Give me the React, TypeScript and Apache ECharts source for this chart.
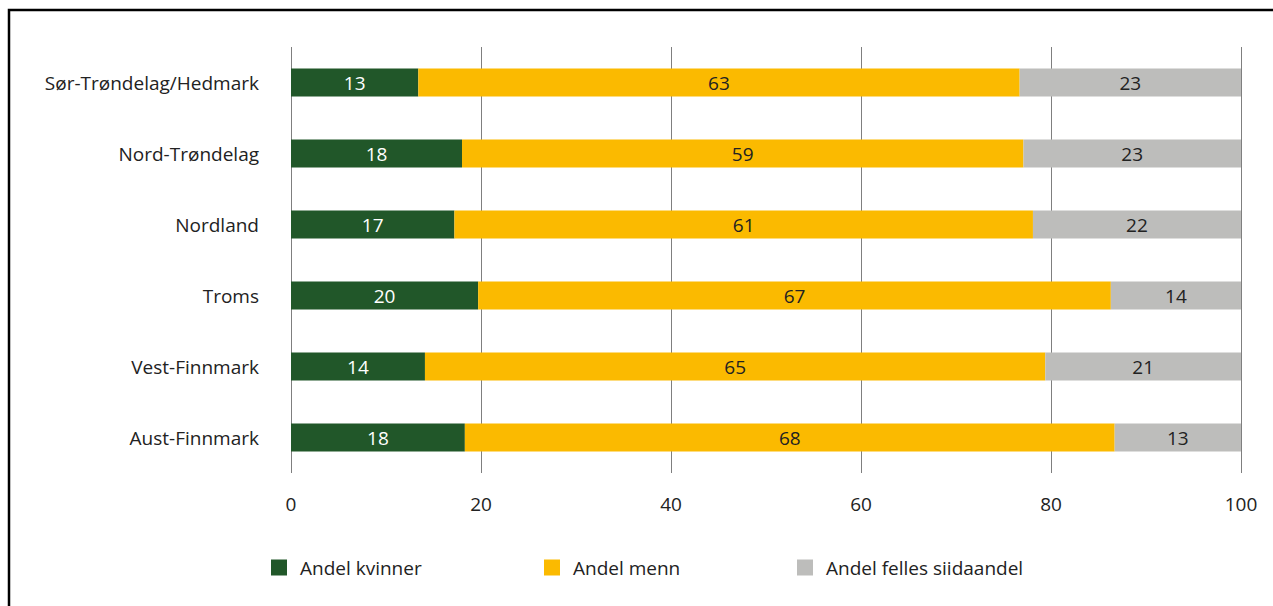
import React, { useEffect, useRef } from "react";
import * as echarts from "echarts";

const categories = ["Sør-Trøndelag/Hedmark", "Nord-Trøndelag", "Nordland", "Troms", "Vest-Finnmark", "Aust-Finnmark"];
const kvinner = [13.4, 18.0, 17.2, 19.7, 14.1, 18.3];
const menn = [63.3, 59.1, 60.9, 66.6, 65.3, 68.4];
const felles = [23.3, 22.9, 21.9, 13.7, 20.6, 13.3];
const seriesNames = ["Andel kvinner", "Andel menn", "Andel felles siidaandel"];
const xTicks = [0, 20, 40, 60, 80, 100];

const FONT = "'Open Sans', 'Noto Sans', sans-serif";
const FS = 19;
const legendLefts = [266, 539, 792];

export default function App() {
  const ref = useRef<HTMLDivElement>(null);
  useEffect(() => {
    const chart = echarts.init(ref.current!, null, { renderer: "svg" });
    const mk = (name: string, data: number[], color: string, labelColor: string) => ({
      name,
      type: "bar",
      stack: "total",
      data,
      barWidth: 28,
      itemStyle: { color },
      label: {
        show: true,
        position: "inside",
        color: labelColor,
        fontSize: FS,
        fontFamily: FONT,
        formatter: (p: any) => String(Math.round(p.value)),
      },
    });
    chart.setOption({
      animation: false,
      textStyle: { fontFamily: FONT },
      graphic: [
        {
          type: "rect",
          shape: { x: 9, y: 10, width: 1300, height: 700 },
          style: { fill: "none", stroke: "#000", lineWidth: 2.5 },
          silent: true,
        },
      ],
      grid: { left: 291, right: 32, top: 47, bottom: 133, containLabel: false },
      legend: seriesNames.map((n, i) => ({
        left: legendLefts[i],
        top: 553,
        itemWidth: 16,
        itemHeight: 16,
        icon: "rect",
        textStyle: { fontSize: FS, color: "#222", fontFamily: FONT, padding: [0, 0, 0, 8] },
        data: [n],
      })),
      xAxis: {
        type: "value",
        min: 0,
        max: 100,
        interval: 20,
        axisLine: { show: false },
        axisTick: { show: false },
        splitLine: { show: true, lineStyle: { color: "#7f7f7f", width: 1 } },
        axisLabel: {
          color: "#222",
          fontSize: FS,
          margin: 21,
          fontFamily: FONT,
          formatter: (v: number) => (xTicks.includes(v) ? String(v) : ""),
        },
      },
      yAxis: {
        type: "category",
        data: categories,
        inverse: true,
        axisLine: { show: false },
        axisTick: { show: false },
        axisLabel: { color: "#222", fontSize: FS, margin: 32, fontFamily: FONT },
      },
      series: [
        mk(seriesNames[0], kvinner, "#215729", "#fff"),
        mk(seriesNames[1], menn, "#fbba00", "#222"),
        mk(seriesNames[2], felles, "#bdbdbb", "#222"),
      ],
    });
    return () => chart.dispose();
  }, []);
  return <div ref={ref} style={{ width: 1273, height: 606, position: "absolute", left: 0, top: 0, background: "#fff" }} />;
}
